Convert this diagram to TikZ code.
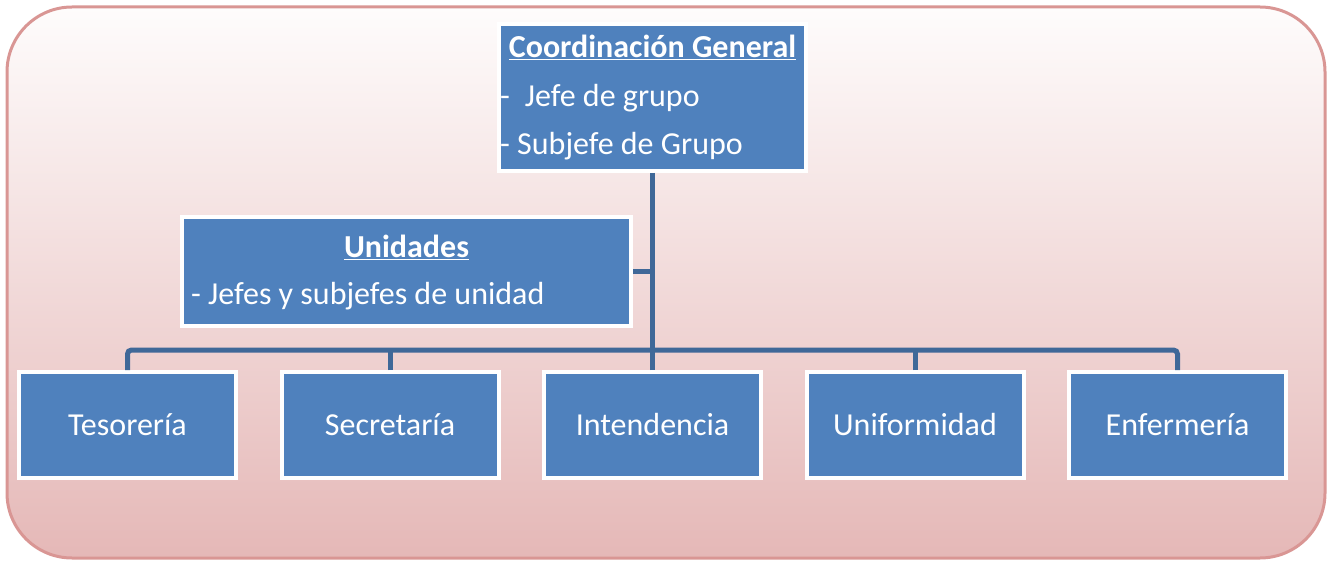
\documentclass[tikz,border=0pt]{standalone}
\usepackage{fontspec}
\setmainfont{Carlito}
\definecolor{boxblue}{HTML}{4F81BD}
\definecolor{linkblue}{HTML}{3F6898}
\definecolor{bgtop}{HTML}{FEFCFC}
\definecolor{bgbot}{HTML}{E5B8B7}
\definecolor{bgline}{HTML}{D99694}
\tikzset{
  orgbox/.style={rectangle, fill=boxblue, draw=white, line width=4pt, inner sep=0pt},
  smallbox/.style={orgbox, minimum width=217pt, minimum height=106pt, text=white,
     font=\fontsize{32}{38}\selectfont},
  lbl/.style={text=white, inner sep=0pt, font=\fontsize{32}{38}\selectfont},
  conn/.style={draw=linkblue, line width=5pt},
}
\begin{document}
\begin{tikzpicture}[x=1pt,y=-1pt]
\useasboundingbox (0,0) rectangle (1331,564);
\shade[top color=bgtop, bottom color=bgbot, draw=bgline, line width=3pt, rounded corners=65pt]
  (7,7) rectangle (1325,558);
% boxes
\node[orgbox, minimum width=307pt, minimum height=147pt] (coord) at (652.5,97.5) {};
\node[orgbox, minimum width=449pt, minimum height=109pt] (unid) at (406.5,271.5) {};
\node[smallbox] (teso) at (127.5,425) {Tesorería};
\node[smallbox] (secr) at (390,425) {Secretaría};
\node[smallbox] (inte) at (652.5,425) {Intendencia};
\node[smallbox] (unif) at (915,425) {Uniformidad};
\node[smallbox] (enfe) at (1177.5,425) {Enfermería};
% texts
\node[lbl, anchor=base] (coordt) at (652.5,58) {\textbf{\underline{Coordinación General}}};
\node[lbl, anchor=base west] (coordl1) at (500,107) {-\hspace{15pt}Jefe de grupo};
\node[lbl, anchor=base west] (coordl2) at (500,155) {- Subjefe de Grupo};
\node[lbl, anchor=base] (unidt) at (406.5,258) {\textbf{\underline{Unidades}}};
\node[lbl, anchor=base west] (unidl1) at (191,305) {- Jefes y subjefes de unidad};
% connectors
\coordinate (bus) at (652.5,350);
\draw[conn] (coord.south) -- (bus);
\draw[conn] (unid.east) -- (unid.east -| bus);
\draw[conn, rounded corners=4pt] (teso.north) |- (bus) -| (enfe.north);
\draw[conn] (secr.north) -- (secr.north |- bus);
\draw[conn] (inte.north) -- (inte.north |- bus);
\draw[conn] (unif.north) -- (unif.north |- bus);
\end{tikzpicture}
\end{document}
